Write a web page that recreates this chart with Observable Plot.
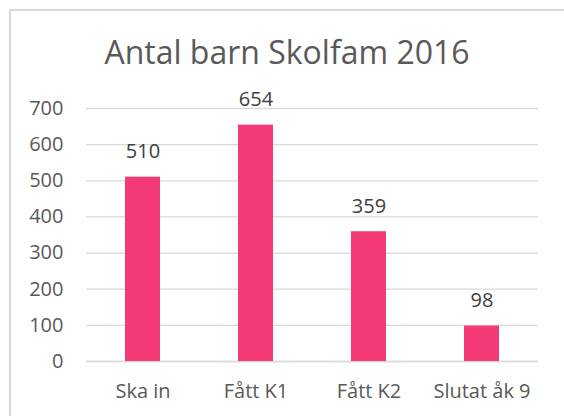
<!DOCTYPE html>
<html>
<head>
<meta charset="utf-8">
<script src="https://cdn.jsdelivr.net/npm/d3@7"></script>
<script src="https://cdn.jsdelivr.net/npm/@observablehq/plot@0.6"></script>
<style>
  html, body { margin: 0; padding: 0; background: #fff; }
  #wrap { position: relative; width: 564px; height: 416px; overflow: hidden; font-family: "Open Sans", Lato, sans-serif; }
  #frame { position: absolute; left: 9px; top: 9px; width: 600px; height: 450px; border-left: 2px solid #D9D9D9; border-top: 2px solid #D9D9D9; }
  #title { position: absolute; left: 0; width: 574px; top: 30px; text-align: center; font-size: 32px; color: #595959; line-height: 44px; }
  #chart { position: absolute; left: 0; top: 0; }
</style>
</head>
<body>
<div id="wrap">
  <div id="frame"></div>
  <div id="chart"></div>
  <div id="title">Antal barn Skolfam 2016</div>
</div>
<script>
const categories = ["Ska in", "Fått K1", "Fått K2", "Slutat åk 9"];
const values = [510, 654, 359, 98];
const yTicks = [0, 100, 200, 300, 400, 500, 600, 700];

const data = categories.map((c, i) => ({category: c, value: values[i]}));

const chart = Plot.plot({
  width: 564,
  height: 416,
  marginLeft: 86,
  marginRight: 26,
  marginTop: 108,
  marginBottom: 55,
  style: {fontFamily: "'Open Sans', Lato, sans-serif", fontSize: "20px", color: "#595959", background: "transparent"},
  x: {domain: categories, paddingInner: 0.686, paddingOuter: 0.343, label: null},
  y: {domain: [0, 700], label: null},
  marks: [
    Plot.gridY(yTicks, {stroke: "#D9D9D9", strokeOpacity: 1, strokeWidth: 1.3}),
    Plot.ruleY([0], {stroke: "#D9D9D9", strokeWidth: 1.3}),
    Plot.barY(data, {x: "category", y: "value", fill: "#F43B76"}),
    Plot.text(data, {x: "category", y: "value", text: d => String(d.value), lineAnchor: "bottom", dy: -19, fill: "#404040", fontSize: 20}),
    Plot.axisY(yTicks, {tickSize: 0, tickPadding: 23, fill: "#595959", fontSize: 20, label: null}),
    Plot.axisX({tickSize: 0, tickPadding: 22, fill: "#595959", fontSize: 20, label: null})
  ]
});
document.getElementById("chart").appendChild(chart);
</script>
</body>
</html>
